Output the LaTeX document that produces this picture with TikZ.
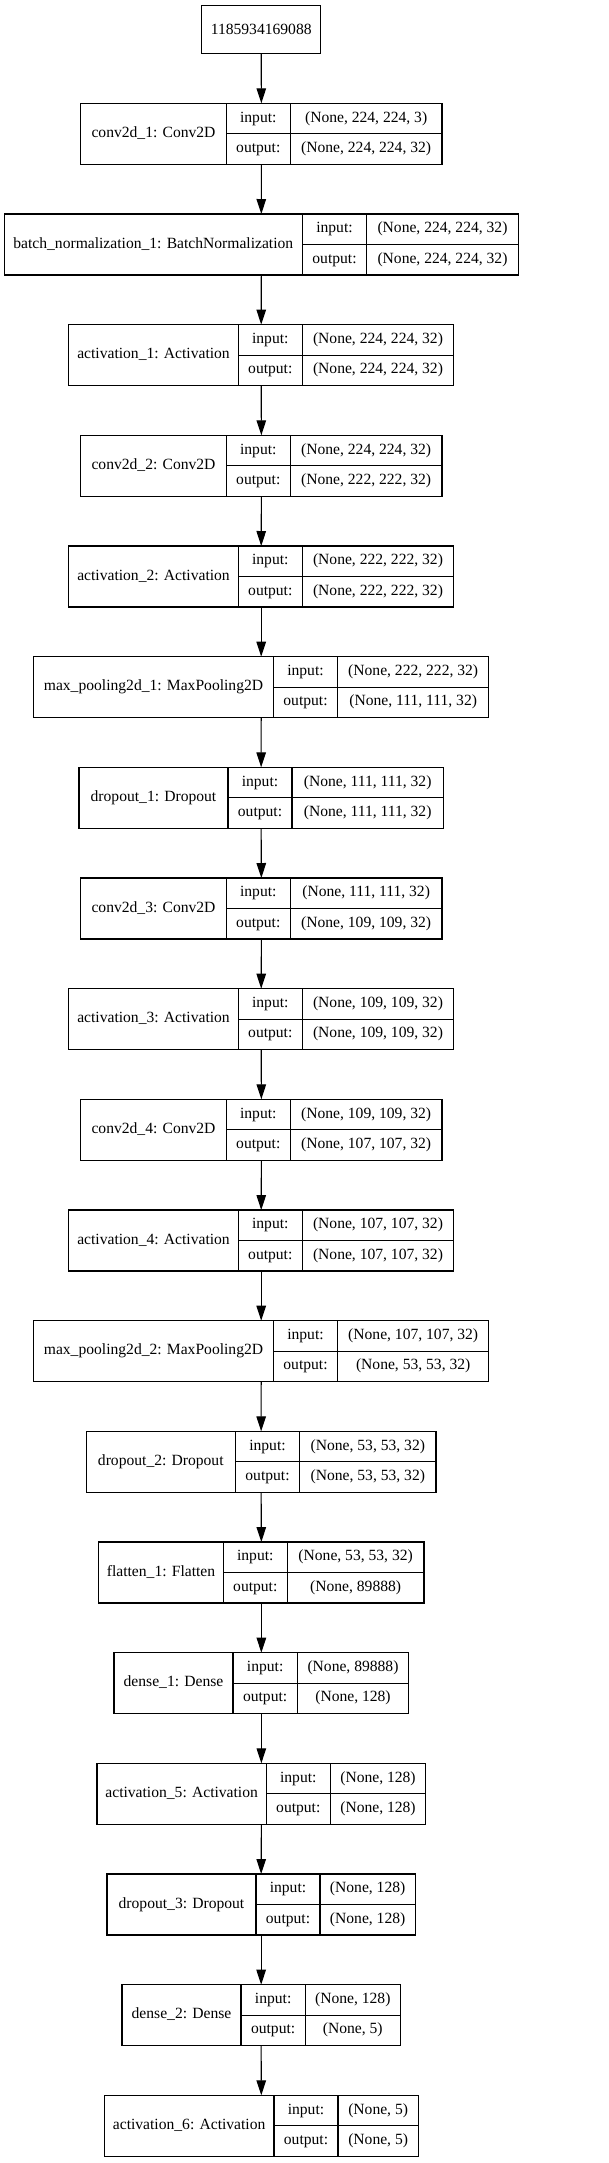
\documentclass[tikz,border=0pt]{standalone}
\usepackage{fontspec}
\setmainfont{Liberation Serif}
\usepackage{tikz}
\usetikzlibrary{arrows.meta}
\newcommand{\layer}[9]{%
	\node[rec, minimum width={(#6-#3)*1pt}, anchor=north west] (#1) at (#3,#2) {};
	\draw[rec] ({#4},{#2}) -- +(0,61) ({#5},{#2}) -- +(0,61) ({#4},{#2+30.5}) -- ({#6},{#2+30.5});
	\node[txt] (#1-name) at ({(#3+#4)/2},{#2+30.5}) {#7};
	\node[txt] (#1-il) at ({(#4+#5)/2},{#2+15.25}) {input:};
	\node[txt] (#1-ol) at ({(#4+#5)/2},{#2+45.75}) {output:};
	\node[txt] (#1-iv) at ({(#5+#6)/2},{#2+15.25}) {#8};
	\node[txt] (#1-ov) at ({(#5+#6)/2},{#2+45.75}) {#9};
}

\begin{document}
\begin{tikzpicture}[x=1pt, y=-1pt,
		font={\fontsize{15.6pt}{18pt}\selectfont},
		rec/.style={draw, line width=1.1pt, inner sep=0pt, outer sep=0pt, minimum height=61pt},
		txt/.style={inner sep=0pt, text height=10.5pt, text depth=3.5pt},
		link/.style={line width=1.1pt, -{Triangle[length=15pt, width=9.5pt]}}]

	\useasboundingbox (0,0) rectangle (608,2163);

	\node[rec, minimum width=119pt, minimum height=47.6pt] (src) at (261.2,29.5) {1185934169088};

	\layer{c1}{103.3}{80.7}{226.3}{290.3}{442}{conv2d\_1: Conv2D}{(None, 224, 224, 3)}{(None, 224, 224, 32)}
	\layer{bn1}{214.0}{4.3}{302.3}{366.7}{518.3}{batch\_normalization\_1: BatchNormalization}{(None, 224, 224, 32)}{(None, 224, 224, 32)}
	\layer{a1}{324.6}{68.7}{238.3}{302.3}{453.7}{activation\_1: Activation}{(None, 224, 224, 32)}{(None, 224, 224, 32)}
	\layer{c2}{435.3}{80.7}{226.3}{290.3}{442}{conv2d\_2: Conv2D}{(None, 224, 224, 32)}{(None, 222, 222, 32)}
	\layer{a2}{546.0}{68.7}{238.3}{302.3}{453.7}{activation\_2: Activation}{(None, 222, 222, 32)}{(None, 222, 222, 32)}
	\layer{mp1}{656.7}{33.7}{273.3}{337.7}{488.7}{max\_pooling2d\_1: MaxPooling2D}{(None, 222, 222, 32)}{(None, 111, 111, 32)}
	\layer{d1}{767.3}{79}{228}{292}{443.3}{dropout\_1: Dropout}{(None, 111, 111, 32)}{(None, 111, 111, 32)}
	\layer{c3}{878.0}{80.7}{226.3}{290.3}{442}{conv2d\_3: Conv2D}{(None, 111, 111, 32)}{(None, 109, 109, 32)}
	\layer{a3}{988.7}{68.7}{238.3}{302.3}{453.7}{activation\_3: Activation}{(None, 109, 109, 32)}{(None, 109, 109, 32)}
	\layer{c4}{1099.3}{80.7}{226.3}{290.3}{442}{conv2d\_4: Conv2D}{(None, 109, 109, 32)}{(None, 107, 107, 32)}
	\layer{a4}{1210.0}{68.7}{238.3}{302.3}{453.7}{activation\_4: Activation}{(None, 107, 107, 32)}{(None, 107, 107, 32)}
	\layer{mp2}{1320.7}{33.7}{273.3}{337.7}{488.7}{max\_pooling2d\_2: MaxPooling2D}{(None, 107, 107, 32)}{(None, 53, 53, 32)}
	\layer{d2}{1431.3}{86.3}{235.3}{299.7}{436}{dropout\_2: Dropout}{(None, 53, 53, 32)}{(None, 53, 53, 32)}
	\layer{f1}{1542.0}{98.7}{223.3}{287.3}{424}{flatten\_1: Flatten}{(None, 53, 53, 32)}{(None, 89888)}
	\layer{de1}{1652.7}{114}{233}{297.3}{408.7}{dense\_1: Dense}{(None, 89888)}{(None, 128)}
	\layer{a5}{1763.3}{97}{266.3}{330.3}{425.7}{activation\_5: Activation}{(None, 128)}{(None, 128)}
	\layer{d3}{1874.0}{107}{256}{320}{415.3}{dropout\_3: Dropout}{(None, 128)}{(None, 128)}
	\layer{de2}{1984.7}{122}{241}{305.3}{400.3}{dense\_2: Dense}{(None, 128)}{(None, 5)}
	\layer{a6}{2095.3}{104.3}{274}{338}{418.3}{activation\_6: Activation}{(None, 5)}{(None, 5)}

	\draw[link] (src.south) -- (c1.north);
	\draw[link] (c1.south) -- (bn1.north);
	\draw[link] (bn1.south) -- (a1.north);
	\draw[link] (a1.south) -- (c2.north);
	\draw[link] (c2.south) -- (a2.north);
	\draw[link] (a2.south) -- (mp1.north);
	\draw[link] (mp1.south) -- (d1.north);
	\draw[link] (d1.south) -- (c3.north);
	\draw[link] (c3.south) -- (a3.north);
	\draw[link] (a3.south) -- (c4.north);
	\draw[link] (c4.south) -- (a4.north);
	\draw[link] (a4.south) -- (mp2.north);
	\draw[link] (mp2.south) -- (d2.north);
	\draw[link] (d2.south) -- (f1.north);
	\draw[link] (f1.south) -- (de1.north);
	\draw[link] (de1.south) -- (a5.north);
	\draw[link] (a5.south) -- (d3.north);
	\draw[link] (d3.south) -- (de2.north);
	\draw[link] (de2.south) -- (a6.north);
\end{tikzpicture}
\end{document}
